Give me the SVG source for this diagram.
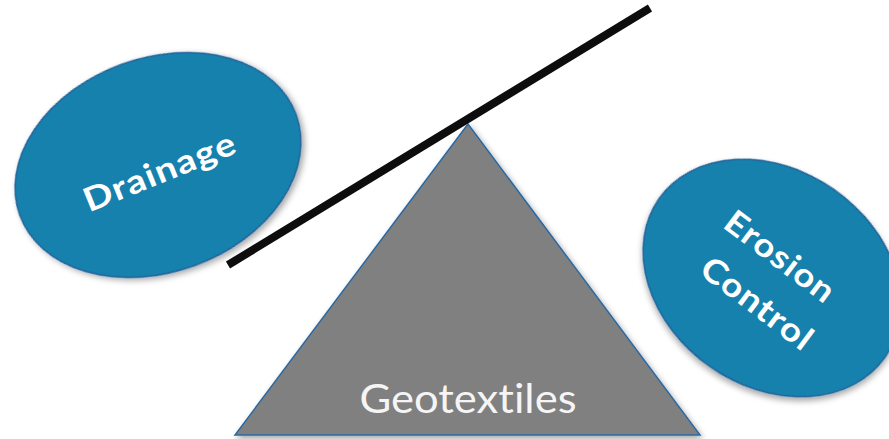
<svg xmlns="http://www.w3.org/2000/svg" width="889" height="439" viewBox="0 0 889 439">
  <defs>
    <filter id="shadow" x="-20%" y="-20%" width="140%" height="140%">
      <feGaussianBlur in="SourceAlpha" stdDeviation="3"/>
      <feOffset dx="2" dy="3" result="b"/>
      <feComponentTransfer><feFuncA type="linear" slope="0.35"/></feComponentTransfer>
      <feMerge><feMergeNode/><feMergeNode in="SourceGraphic"/></feMerge>
    </filter>
  </defs>
  <style>
    .blob { fill: #1681ad; stroke: #22639a; stroke-width: 1.5; }
    .tri { fill: #808080; stroke: #2a6aa3; stroke-width: 1.5; }
    .beam { stroke: #0d0d0d; stroke-width: 8; stroke-linecap: butt; fill: none; }
    .lbl { font-family: "Lato", "Open Sans", "DejaVu Sans", sans-serif; font-weight: 700; font-size: 33px; fill: #ffffff; letter-spacing: 1px; text-anchor: middle; font-variant-ligatures: none; }
    .geo { font-family: "Lato", "Open Sans", "DejaVu Sans", sans-serif; font-weight: 400; font-size: 41px; fill: #f5f5f5; text-anchor: middle; font-variant-ligatures: none; }
  </style>

  <g id="drainage">
    <ellipse class="blob" filter="url(#shadow)" cx="158" cy="165" rx="147" ry="107" transform="rotate(-20 158 165)"/>
    <text class="lbl" transform="translate(160 172) rotate(-22)" y="11" textLength="162" lengthAdjust="spacingAndGlyphs">Drainage</text>
  </g>

  <g id="erosion-control">
    <ellipse class="blob" filter="url(#shadow)" cx="772" cy="278" rx="138" ry="108" transform="rotate(35 772 278)"/>
    <text class="lbl" transform="translate(780 257) rotate(37)" y="11" textLength="130" lengthAdjust="spacingAndGlyphs">Erosion</text>
    <text class="lbl" transform="translate(757 304) rotate(37)" y="11" textLength="132" lengthAdjust="spacingAndGlyphs">Control</text>
  </g>

  <g id="geotextiles">
    <polygon class="tri" filter="url(#shadow)" points="468,124 235,435 700,435"/>
    <text class="geo" x="468" y="413" textLength="217" lengthAdjust="spacingAndGlyphs">Geotextiles</text>
  </g>

  <g id="connectors">
    <line class="beam" x1="228" y1="265" x2="650" y2="8"/>
  </g>
</svg>
